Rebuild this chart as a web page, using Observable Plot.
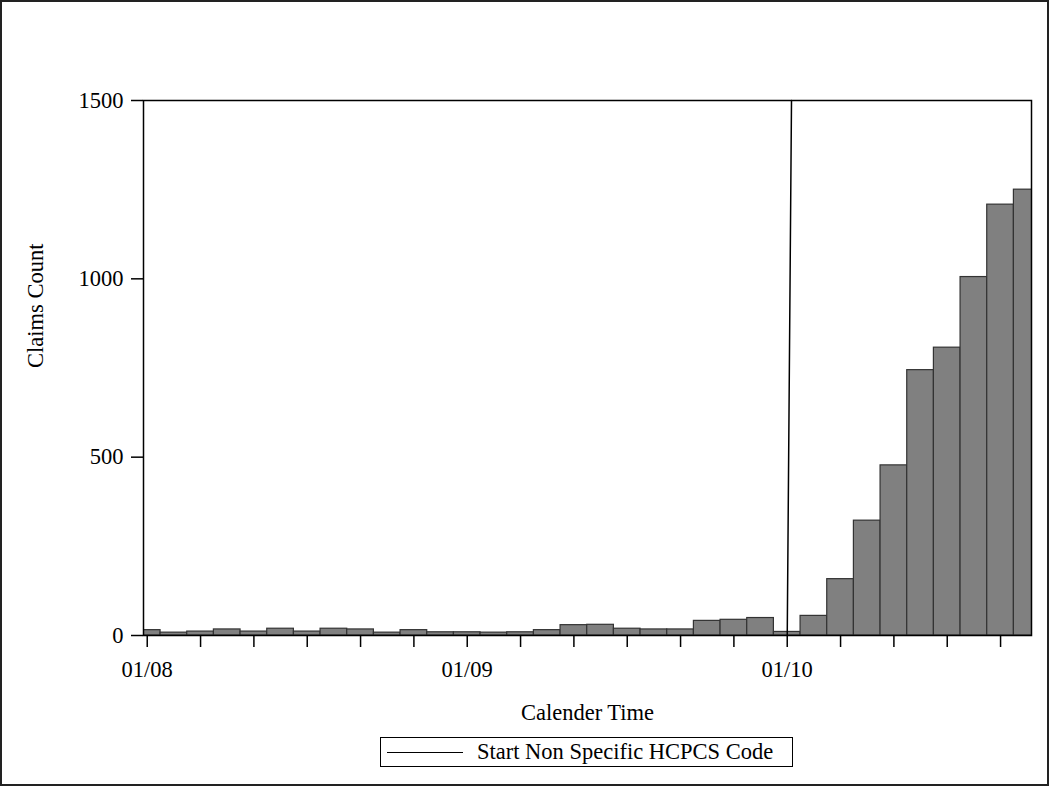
<!DOCTYPE html>
<html>
<head>
<meta charset="utf-8">
<script src="https://cdn.jsdelivr.net/npm/d3@7"></script>
<script src="https://cdn.jsdelivr.net/npm/@observablehq/plot@0.6"></script>
<style>
  body { margin: 0; background: #fff; }
  #wrap { position: relative; width: 1049px; height: 786px; border: 2px solid #222; box-sizing: border-box; background: #fff; font-family: "Liberation Serif", "DejaVu Serif", serif; }
  #legend { position: absolute; left: 378px; top: 735px; width: 413px; height: 30px; border: 1.5px solid #000; box-sizing: border-box; display: flex; align-items: center; font-size: 22.5px; color: #000; }
  #legend .sw { width: 76px; height: 0; border-top: 1.5px solid #000; margin-left: 6px; margin-right: 14px; }
</style>
</head>
<body>
<div id="wrap"></div>
<script>
// Months 01/08 .. 10/10
const months = ["01/08","02/08","03/08","04/08","05/08","06/08","07/08","08/08","09/08","10/08","11/08","12/08",
                "01/09","02/09","03/09","04/09","05/09","06/09","07/09","08/09","09/09","10/09","11/09","12/09",
                "01/10","02/10","03/10","04/10","05/10","06/10","07/10","08/10","09/10","10/10"];
const claims = [15, 8, 11, 17, 11, 19, 11, 19, 17, 8, 15, 9,
                9, 8, 9, 15, 29, 30, 19, 17, 17, 41, 44, 49,
                10, 55, 158, 322, 477, 744, 807, 1005, 1208, 1250];
const yTicks = [0, 500, 1000, 1500];
const xTickLabels = ["01/08", "01/09", "01/10"];
// reference line "Start Non Specific HCPCS Code" (month index, count)
const refX = [24, 24.16];
const refY = [0, 1500];
const legendLabel = "Start Non Specific HCPCS Code";

const bars = claims.map((v, i) => ({i, v, m: months[i]}));
const ref = refX.map((x, k) => ({x, y: refY[k]}));
const xTickIdx = d3.range(0, months.length, 2);

const chart = Plot.plot({
  width: 1045,
  height: 730,
  marginLeft: 141,
  marginRight: 16,
  marginTop: 98,
  marginBottom: 97,
  style: { fontFamily: "Liberation Serif", fontSize: "22px", color: "#000", background: "#fff" },
  x: { type: "linear", domain: [-0.14, 33.16] },
  y: { domain: [0, 1500] },
  marks: [
    Plot.rectY(bars, { x1: d => d.i - 0.5, x2: d => d.i + 0.5, y1: 0, y2: "v", fill: "#808080", stroke: "#333", strokeWidth: 1.2, clip: true }),
    Plot.line(ref, { x: "x", y: "y", stroke: "#000", strokeWidth: 1.5 }),
    Plot.frame({ stroke: "#000", strokeWidth: 1.5 }),
    Plot.axisY({ ticks: yTicks, tickFormat: d3.format("d"), tickSize: 12, tickPadding: 8, fontSize: 22.5, label: null, stroke: "#000", strokeWidth: 1.5 }),
    Plot.axisX({ ticks: xTickIdx, tickFormat: i => xTickLabels.includes(months[i]) ? months[i] : "", tickSize: 12, tickPadding: 14, fontSize: 22.5, label: null, stroke: "#000", strokeWidth: 1.5 }),
    Plot.text(["Claims Count"], { frameAnchor: "left", dx: -108, rotate: -90, fontSize: 22.5, fill: "#000" }),
    Plot.text(["Calender Time"], { frameAnchor: "bottom", dy: 84, fontSize: 22.5, fill: "#000" })
  ]
});
const wrap = document.getElementById("wrap");
wrap.appendChild(chart);
const lg = document.createElement("div");
lg.id = "legend";
lg.innerHTML = '<span class="sw"></span><span></span>';
lg.lastChild.textContent = legendLabel;
wrap.appendChild(lg);
</script>
</body>
</html>
